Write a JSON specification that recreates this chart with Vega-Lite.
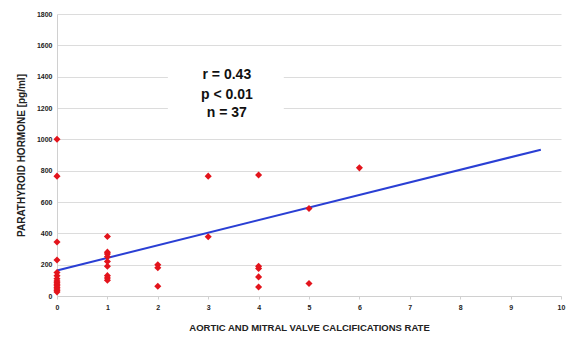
{
  "$schema": "https://vega.github.io/schema/vega-lite/v6.json",
  "width": 504,
  "height": 282,
  "autosize": "none",
  "padding": {"left": 57, "top": 14, "right": 7, "bottom": 41},
  "background": "white",
  "config": {
    "view": {"stroke": null},
    "font": "Liberation Sans"
  },
  "datasets": {
    "points": [
      {"rate": 0, "pth": 1000}, {"rate": 0, "pth": 765}, {"rate": 0, "pth": 345}, {"rate": 0, "pth": 230},
      {"rate": 0, "pth": 150}, {"rate": 0, "pth": 130}, {"rate": 0, "pth": 110}, {"rate": 0, "pth": 95},
      {"rate": 0, "pth": 85}, {"rate": 0, "pth": 75}, {"rate": 0, "pth": 65}, {"rate": 0, "pth": 55},
      {"rate": 0, "pth": 45}, {"rate": 0, "pth": 35}, {"rate": 0, "pth": 25},
      {"rate": 1, "pth": 380}, {"rate": 1, "pth": 280}, {"rate": 1, "pth": 268}, {"rate": 1, "pth": 250},
      {"rate": 1, "pth": 220}, {"rate": 1, "pth": 190}, {"rate": 1, "pth": 130}, {"rate": 1, "pth": 115},
      {"rate": 1, "pth": 100},
      {"rate": 2, "pth": 200}, {"rate": 2, "pth": 180}, {"rate": 2, "pth": 62},
      {"rate": 3, "pth": 765}, {"rate": 3, "pth": 378},
      {"rate": 4, "pth": 772}, {"rate": 4, "pth": 190}, {"rate": 4, "pth": 175}, {"rate": 4, "pth": 122}, {"rate": 4, "pth": 58},
      {"rate": 5, "pth": 558}, {"rate": 5, "pth": 80},
      {"rate": 6, "pth": 818}
    ],
    "fit": [
      {"rate": 0, "pth": 163},
      {"rate": 9.6, "pth": 934}
    ],
    "box": [
      {"rate": 2.2, "rate2": 4.5, "pth": 1060, "pth2": 1530}
    ],
    "stats": [
      {"rate": 3.37, "pth": 1409, "label": "r = 0.43"},
      {"rate": 3.37, "pth": 1281, "label": "p < 0.01"},
      {"rate": 3.37, "pth": 1166, "label": "n = 37"}
    ]
  },
  "encoding": {
    "x": {
      "field": "rate", "type": "quantitative",
      "scale": {"domain": [0, 10], "nice": false},
      "axis": {
        "title": "AORTIC AND MITRAL VALVE CALCIFICATIONS RATE",
        "titleFont": "Liberation Sans", "titleFontSize": 9.5, "titleFontWeight": "bold", "titleColor": "#222",
        "titlePadding": 12,
        "values": [0,1,2,3,4,5,6,7,8,9,10],
        "labelFontSize": 7, "labelFontWeight": "bold", "labelColor": "#222",
        "labelPadding": 4, "labelOverlap": false, "labelFlush": false,
        "grid": false,
        "domainColor": "#d0d0d0", "tickColor": "#d0d0d0", "tickSize": 3
      }
    },
    "y": {
      "field": "pth", "type": "quantitative",
      "scale": {"domain": [0, 1800], "nice": false},
      "axis": {
        "title": "PARATHYROID HORMONE [pg/ml]",
        "titleFont": "Liberation Sans", "titleFontSize": 10, "titleFontWeight": "bold", "titleColor": "#222",
        "titlePadding": 10,
        "values": [0,200,400,600,800,1000,1200,1400,1600,1800],
        "format": "d",
        "labelFontSize": 7, "labelFontWeight": "bold", "labelColor": "#222",
        "labelPadding": 5, "labelOverlap": false, "labelFlush": false,
        "grid": true, "gridColor": "#dcdcdc", "gridWidth": 1,
        "domainColor": "#d0d0d0", "ticks": false
      }
    }
  },
  "layer": [
    {
      "data": {"name": "box"},
      "mark": {"type": "rect", "fill": "white"},
      "encoding": {
        "x2": {"field": "rate2"},
        "y2": {"field": "pth2"}
      }
    },
    {
      "data": {"name": "fit"},
      "mark": {"type": "line", "color": "#2a3fd4", "strokeWidth": 2},
      "encoding": {}
    },
    {
      "data": {"name": "points"},
      "mark": {"type": "point", "shape": "diamond", "filled": true, "color": "#e3141c", "size": 50, "opacity": 1},
      "encoding": {}
    },
    {
      "data": {"name": "stats"},
      "mark": {"type": "text", "font": "Liberation Sans", "fontSize": 14, "fontWeight": "bold", "color": "#111", "align": "center", "baseline": "middle"},
      "encoding": {
        "text": {"field": "label"}
      }
    }
  ]
}
